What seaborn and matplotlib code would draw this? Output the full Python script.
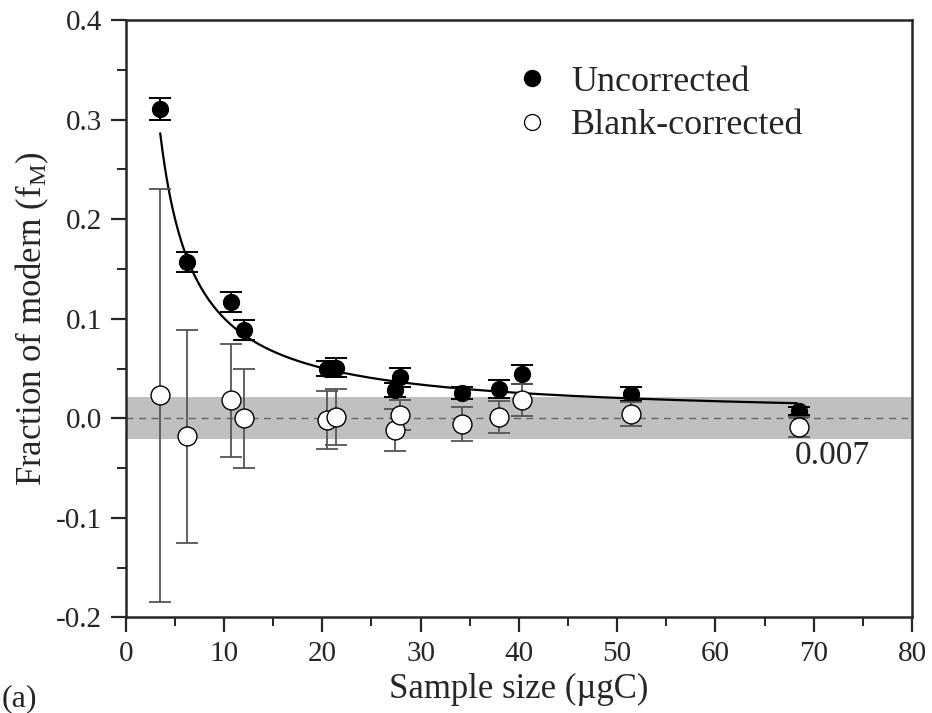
import numpy as np
import pandas as pd
import matplotlib
matplotlib.use("Agg")
import matplotlib.pyplot as plt
import seaborn as sns
from matplotlib.ticker import MultipleLocator
from matplotlib.lines import Line2D

# ========= data ==============================
sample_size = [3.44, 6.2, 10.7, 12.07, 20.5, 21.4, 27.4, 27.95, 34.25, 37.95, 40.3, 51.45, 68.5]
uncorrected = [0.311, 0.157, 0.117, 0.089, 0.050, 0.051, 0.028, 0.041, 0.025, 0.029, 0.044, 0.024, 0.007]
uncorrected_err = [0.011, 0.010, 0.010, 0.010, 0.008, 0.010, 0.007, 0.010, 0.006, 0.009, 0.010, 0.007, 0.004]
blank_corrected = [0.023, -0.018, 0.018, 0.000, -0.002, 0.001, -0.012, 0.003, -0.006, 0.001, 0.018, 0.004, -0.009]
blank_corrected_err = [0.207, 0.107, 0.057, 0.050, 0.029, 0.028, 0.021, 0.015, 0.017, 0.016, 0.016, 0.012, 0.010]

# fitted curve fM = a + b / m (parameters)
fit_a, fit_b = 0.0005, 1.0
fit_range = (3.5, 68.3)
band_half = 0.021
label_value = "0.007"

df = pd.DataFrame({"size": sample_size, "unc": uncorrected, "unc_err": uncorrected_err,
                   "blank": blank_corrected, "blank_err": blank_corrected_err})
m = np.linspace(fit_range[0], fit_range[1], 300)
fit_df = pd.DataFrame({"size": m, "fm": fit_a + fit_b / m})

# ========= style ==========
sns.set_style("ticks")
plt.rcParams["font.family"] = ["Liberation Serif", "DejaVu Serif"]
plt.rcParams["mathtext.fontset"] = "custom"
plt.rcParams["mathtext.rm"] = "Liberation Serif"
plt.rcParams["mathtext.it"] = "Liberation Serif:italic"

fig = plt.figure(figsize=(9.32, 7.13), dpi=100)
ax = fig.add_axes([0.135, 0.134, 0.8435, 0.838])

ax.axhspan(-band_half, band_half, color="#c0c0c0", lw=0, zorder=0)
ax.axhline(0, color="#666666", ls=(0, (5, 4)), lw=1.0, zorder=1)

sns.lineplot(data=fit_df, x="size", y="fm", color="black", lw=1.6, ax=ax, zorder=2)

ax.errorbar(df["size"], df["unc"], yerr=df["unc_err"], fmt="none", ecolor="black",
            elinewidth=1.4, capsize=8, capthick=1.4, zorder=3)
sns.scatterplot(data=df, x="size", y="unc", color="black", edgecolor="black", s=135,
                linewidth=0.8, ax=ax, zorder=4)

ax.errorbar(df["size"], df["blank"], yerr=df["blank_err"], fmt="none", ecolor="#555555",
            elinewidth=1.3, capsize=8, capthick=1.3, zorder=5)
sns.scatterplot(data=df, x="size", y="blank", color="white", edgecolor="black", s=185,
                linewidth=1.0, ax=ax, zorder=6)

ax.text(68.05, -0.046, label_value, fontsize=24, ha="left", va="baseline")

ax.set_xlim(0, 80)
ax.set_ylim(-0.2, 0.4)
ax.xaxis.set_major_locator(MultipleLocator(10))
ax.xaxis.set_minor_locator(MultipleLocator(5))
ax.yaxis.set_major_locator(MultipleLocator(0.1))
ax.yaxis.set_minor_locator(MultipleLocator(0.05))
ax.set_yticks(np.arange(-0.2, 0.41, 0.1))
ax.set_yticklabels(["-0.2", "-0.1", "0.0", "0.1", "0.2", "0.3", "0.4"])
ax.tick_params(which="major", length=11, width=1.6, labelsize=21, direction="out", pad=6)
ax.tick_params(which="minor", length=6.5, width=1.4, direction="out")
for sp in ax.spines.values():
    sp.set_linewidth(1.8)
    sp.set_visible(True)

ax.set_xlabel("Sample size (\u00b5gC)", fontsize=25, labelpad=4)
ax.set_ylabel("Fraction of modern (f$_\\mathrm{M}$)", fontsize=25, labelpad=4)

handles = [Line2D([], [], ls="none", marker="o", ms=11.5, mfc="black", mec="black"),
           Line2D([], [], ls="none", marker="o", ms=11.5, mfc="white", mec="black", mew=0.9)]
ax.legend(handles, ["Uncorrected", "Blank-corrected"], loc="upper left",
          bbox_to_anchor=(0.452, 0.978), frameon=False, fontsize=26,
          handletextpad=0.6, labelspacing=0.28, handlelength=1.0)

fig.text(0.002, 0.0, "(a)", fontsize=23, ha="left", va="bottom")

fig.savefig("out.png", dpi=100)
